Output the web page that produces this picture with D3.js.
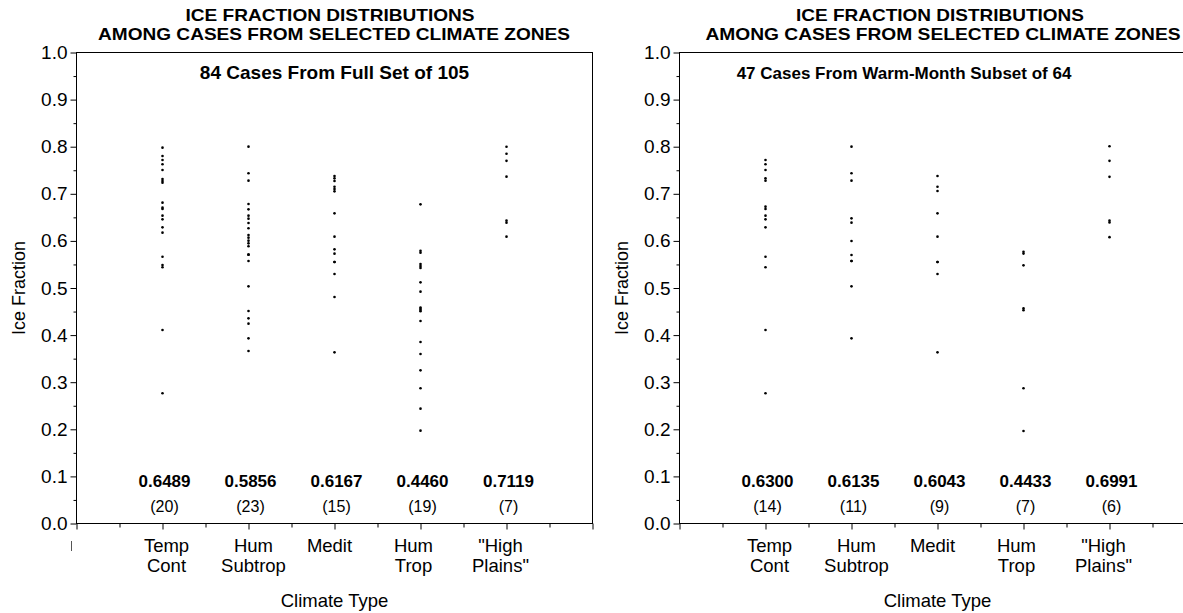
<!DOCTYPE html>
<html><head><meta charset="utf-8">
<script src="https://cdn.jsdelivr.net/npm/d3@7"></script>
<style>
body{margin:0;background:#fff}
svg{display:block}
text{font-family:"Liberation Sans",Arial,Helvetica,sans-serif;fill:#000}
</style>
</head><body>
<svg id="chart" width="1183" height="613"></svg>
<script>
// ---------- DATA ----------
const categories = ["Temp Cont", "Hum Subtrop", "Medit", "Hum Trop", "High Plains"];
const categoryLabelLines = [["Temp","Cont"],["Hum","Subtrop"],["Medit"],["Hum","Trop"],["\"High","Plains\""]];
const yTickValues = [0,0.1,0.2,0.3,0.4,0.5,0.6,0.7,0.8,0.9,1.0];
const titleLines = ["ICE FRACTION DISTRIBUTIONS", "AMONG CASES FROM SELECTED CLIMATE ZONES"];
const subtitles = ["84 Cases From Full Set of 105", "47 Cases From Warm-Month Subset of 64"];
const yAxisTitle = "Ice Fraction";
const xAxisTitle = "Climate Type";

// Full set (left panel)
const fullTempCont   = [0.7980,0.7803,0.7718,0.7626,0.7505,0.7314,0.7272,0.7236,0.6812,0.6706,0.6677,0.6536,0.6458,0.6288,0.6175,0.5665,0.5488,0.5439,0.4108,0.2764];
const fullHumSubtrop = [0.8001,0.7435,0.7279,0.6783,0.6670,0.6536,0.6472,0.6380,0.6267,0.6125,0.6069,0.6005,0.5948,0.5885,0.5708,0.5708,0.5573,0.5035,0.4512,0.4356,0.4243,0.3931,0.3662];
const fullMedit      = [0.7378,0.7328,0.7272,0.7151,0.7102,0.7052,0.6585,0.6090,0.5821,0.5729,0.5552,0.5552,0.5297,0.4809,0.3634];
const fullHumTrop    = [0.6776,0.5791,0.5751,0.5507,0.5467,0.5427,0.5120,0.4922,0.4587,0.4560,0.4533,0.4507,0.4299,0.3854,0.3599,0.3252,0.2870,0.2438,0.1971];
const fullHighPlains = [0.8000,0.7850,0.7700,0.7364,0.6430,0.6386,0.6090];
const fullMeans  = ["0.6489","0.5856","0.6167","0.4460","0.7119"];
const fullCounts = ["(20)","(23)","(15)","(19)","(7)"];

// Warm-month subset (right panel)
const warmTempCont   = [0.7718,0.7626,0.7505,0.7328,0.7279,0.6727,0.6677,0.6536,0.6458,0.6288,0.5665,0.5439,0.4108,0.2764];
const warmHumSubtrop = [0.8001,0.7435,0.7279,0.6479,0.6387,0.5998,0.5701,0.5573,0.5573,0.5035,0.3931];
const warmMedit      = [0.7378,0.7151,0.7059,0.6585,0.6090,0.5552,0.5552,0.5297,0.3634];
const warmHumTrop    = [0.5770,0.5730,0.5481,0.4567,0.4527,0.2870,0.1964];
const warmHighPlains = [0.8010,0.7700,0.7360,0.6430,0.6390,0.6080];
const warmMeans  = ["0.6300","0.6135","0.6043","0.4433","0.6991"];
const warmCounts = ["(14)","(11)","(9)","(7)","(6)"];

// ---------- LAYOUT ----------
const W = 1183, H = 613;
const panelW = 516, yBottom = 523.5, yTop = 52.5;
const labelDx = [4, 5, -5, -7, -6];
const panels = [
  {x0: 76.5, title: [330, 334], titleW: [289, 472], sub: 334.5, subSize: 19, series: [fullTempCont, fullHumSubtrop, fullMedit, fullHumTrop, fullHighPlains], means: fullMeans, counts: fullCounts, subtitle: subtitles[0], stray: true},
  {x0: 679.5, title: [940, 943], titleW: [288, 475], sub: 904, subSize: 17, series: [warmTempCont, warmHumSubtrop, warmMedit, warmHumTrop, warmHighPlains], means: warmMeans, counts: warmCounts, subtitle: subtitles[1], stray: false}
];

const svg = d3.select("#chart");
svg.append("rect").attr("width", W).attr("height", H).attr("fill", "#fff");

panels.forEach(p => {
  const g = svg.append("g");
  const x = d3.scaleLinear().domain([0, 6]).range([p.x0, p.x0 + panelW]);
  const y = d3.scaleLinear().domain([0, 1]).range([yBottom, yTop]);

  // titles
  [21, 40].forEach((by, k) => {
    g.append("text").attr("x", p.title[k]).attr("y", by).attr("text-anchor","middle")
      .attr("font-size", 16.5).attr("font-weight","bold")
      .attr("textLength", p.titleW[k]).attr("lengthAdjust","spacingAndGlyphs")
      .text(titleLines[k]);
  });

  // frame
  g.append("rect").attr("x", x(0)).attr("y", y(1)).attr("width", x(6) - x(0)).attr("height", y(0) - y(1))
    .attr("fill","none").attr("stroke","#000").attr("stroke-width",1);

  // y axis
  const yAxis = d3.axisLeft(y).tickValues(yTickValues).tickFormat(d3.format(".1f")).tickSize(6).tickPadding(3);
  const ya = g.append("g").attr("transform", `translate(${x(0)},0)`).call(yAxis);
  ya.select(".domain").remove();
  ya.selectAll("text").attr("font-size", 19).attr("font-family", null);
  ya.selectAll("line").attr("stroke","#000");
  const yMinor = d3.axisLeft(y).tickValues(d3.range(0.05, 1, 0.1)).tickFormat("").tickSize(3);
  const ym = g.append("g").attr("transform", `translate(${x(0)},0)`).call(yMinor);
  ym.select(".domain").remove();

  // x axis
  const xAxis = d3.axisBottom(x).tickValues([0,1,2,3,4,5,6]).tickFormat("").tickSize(6);
  const xa = g.append("g").attr("transform", `translate(0,${y(0)})`).call(xAxis);
  xa.select(".domain").remove();
  const xMinor = d3.axisBottom(x).tickValues([0.5,1.5,2.5,3.5,4.5,5.5]).tickFormat("").tickSize(4);
  const xm = g.append("g").attr("transform", `translate(0,${y(0)})`).call(xMinor);
  xm.select(".domain").remove();

  // small clipped mark left of the first category label (as in reference)
  if (p.stray) {
    g.append("line").attr("x1", x(0) - 5).attr("x2", x(0) - 5).attr("y1", 541).attr("y2", 551)
      .attr("stroke", "#555").attr("stroke-width", 1);
  }

  // category labels
  categoryLabelLines.forEach((lines, i) => {
    const t = g.append("text").attr("text-anchor","middle").attr("font-size", 18.5);
    lines.forEach((ln, j) => {
      t.append("tspan").attr("x", x(i + 1) + labelDx[i]).attr("y", 552 + j * 19.5).text(ln);
    });
  });

  // axis titles
  g.append("text").attr("x", (x(0) + x(6)) / 2).attr("y", 607).attr("text-anchor","middle")
    .attr("font-size", 18.5).text(xAxisTitle);
  g.append("text").attr("transform", `translate(${x(0) - 52},${(y(0)+y(1))/2}) rotate(-90)`)
    .attr("text-anchor","middle").attr("font-size", 18).text(yAxisTitle);

  // subtitle
  g.append("text").attr("x", p.sub).attr("y", 79).attr("text-anchor","middle")
    .attr("font-size", p.subSize).attr("font-weight","bold").text(p.subtitle);

  // points
  p.series.forEach((vals, i) => {
    g.append("g").selectAll("circle").data(vals).join("circle")
      .attr("cx", x(i + 1)).attr("cy", d => y(d)).attr("r", 1.3).attr("fill", "#000");
  });

  // means and counts
  p.means.forEach((m, i) => {
    g.append("text").attr("x", x(i + 1) + 2).attr("y", 487).attr("text-anchor","middle")
      .attr("font-size", 17).attr("font-weight","bold").text(m);
    g.append("text").attr("x", x(i + 1) + 2).attr("y", 512).attr("text-anchor","middle")
      .attr("font-size", 16).text(p.counts[i]);
  });
});
</script>
</body></html>
